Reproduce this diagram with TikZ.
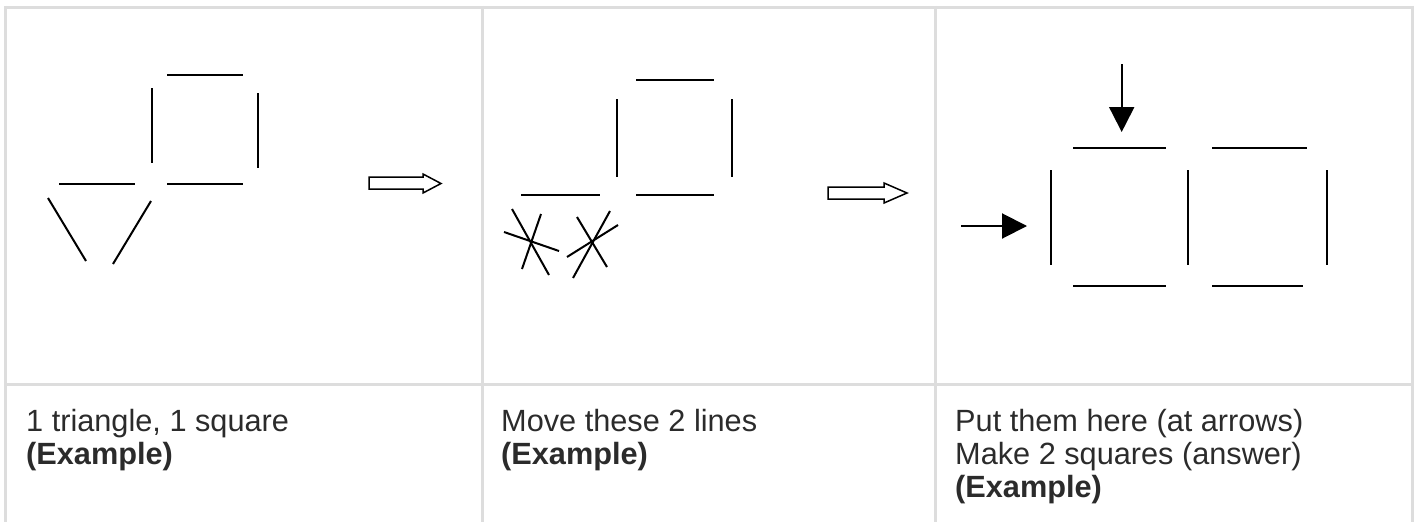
\documentclass[tikz,border=0pt]{standalone}
\usepackage{fontspec}
\setmainfont{Liberation Sans}
\usetikzlibrary{arrows.meta}
\definecolor{gridgrey}{HTML}{DDDDDD}
\definecolor{textgrey}{HTML}{2B2B2B}
\tikzset{
  grid/.style={draw=gridgrey, line width=3pt},
  stick/.style={draw=black, line width=2pt},
  hollowarrow/.style={draw=black, fill=white, line width=1.5pt, line join=miter},
  pointer/.style={draw=black, line width=2pt, -{Triangle[length=25pt,width=25pt]}},
  caption/.style={anchor=base west, inner sep=0pt, text=textgrey, font=\fontsize{30.7}{33}\selectfont},
}
\begin{document}
\begin{tikzpicture}[x=1pt, y=-1pt]
  \useasboundingbox (0,0) rectangle (1420,522);

  % table rules
  \draw[grid] (4,7) -- (1414,7);
  \draw[grid] (4,384.5) -- (1414,384.5);
  \draw[grid] (5.5,5.5) -- (5.5,522);
  \draw[grid] (482,5.5) -- (482,522);
  \draw[grid] (935,5.5) -- (935,522);
  \draw[grid] (1412.5,5.5) -- (1412.5,522);

  % --- first cell: a square and a triangle made of sticks
  \draw[stick] (167,75) -- (243,75);
  \draw[stick] (152,88) -- (152,163);
  \draw[stick] (258,93) -- (258,168);
  \draw[stick] (167,184) -- (243,184);
  \draw[stick] (59,184) -- (135,184);
  \draw[stick] (48,198) -- (86,261);
  \draw[stick] (151,201) -- (113,264);
  \draw[hollowarrow] (369,177) -- (423,177) -- (423,174) -- (441,183.5)
    -- (423,193) -- (423,189) -- (369,189) -- cycle;

  % --- second cell: the two sticks to move are crossed out
  \draw[stick] (636,80) -- (714,80);
  \draw[stick] (617,99) -- (617,177);
  \draw[stick] (732,99) -- (732,177);
  \draw[stick] (636,195) -- (714,195);
  \draw[stick] (521,195) -- (600,195);
  \draw[stick] (512,209) -- (549,275);
  \draw[stick] (541,214) -- (522,269);
  \draw[stick] (504,232) -- (559,251);
  \draw[stick] (577,217) -- (607,267);
  \draw[stick] (610,211) -- (573,278);
  \draw[stick] (618,225) -- (567,257);
  \draw[hollowarrow] (828,187) -- (884,187) -- (884,183) -- (907,193)
    -- (884,203) -- (884,199) -- (828,199) -- cycle;

  % --- third cell: two squares, arrows mark the new sticks
  \coordinate (downfrom) at (1121.7,64);
  \coordinate (downto) at (1121.7,132);
  \coordinate (rightfrom) at (961,226);
  \coordinate (rightto) at (1027,226);
  \draw[pointer] (downfrom) -- (downto);
  \draw[pointer] (rightfrom) -- (rightto);
  \draw[stick] (1073,148) -- (1166,148);
  \draw[stick] (1212,148) -- (1307,148);
  \draw[stick] (1051,170) -- (1051,265);
  \draw[stick] (1188,170) -- (1188,265);
  \draw[stick] (1327,170) -- (1327,265);
  \draw[stick] (1073,286) -- (1166,286);
  \draw[stick] (1212,286) -- (1303,286);

  % captions
  \node[caption] (capAa) at (26,431) {1 triangle, 1 square};
  \node[caption] (capAb) at (26,464) {\bfseries (Example)};
  \node[caption] (capBa) at (501,431) {Move these 2 lines};
  \node[caption] (capBb) at (501,464) {\bfseries (Example)};
  \node[caption] (capCa) at (955,431) {Put them here (at arrows)};
  \node[caption] (capCb) at (955,464) {Make 2 squares (answer)};
  \node[caption] (capCc) at (955,497) {\bfseries (Example)};
\end{tikzpicture}
\end{document}
